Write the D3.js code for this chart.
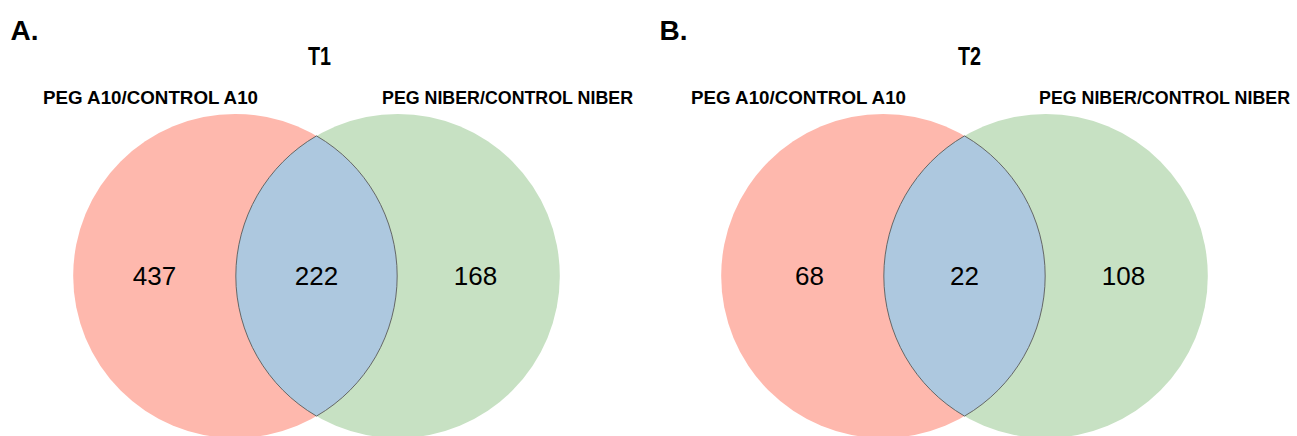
<!DOCTYPE html>
<html>
<head>
<meta charset="utf-8">
<script src="https://cdn.jsdelivr.net/npm/d3@7"></script>
<style>
  html, body { margin: 0; padding: 0; background: #fff; }
  svg { display: block; }
  text { font-family: Arial, "Liberation Sans", Helvetica, sans-serif; fill: #000; }
</style>
</head>
<body>
<svg id="chart" width="1297" height="436"></svg>
<script>
// Two-set overlaps of differentially expressed genes at two time points
const panelLetters = ["A.", "B."];
const timePoints   = ["T1", "T2"];
const setNames     = ["PEG A10/CONTROL A10", "PEG NIBER/CONTROL NIBER"];
const onlyFirst    = [437, 68];
const shared       = [222, 22];
const onlySecond   = [168, 108];

const W = 1297, H = 436;
const svg = d3.select("#chart");

// Diagram geometry, in units of circle radius
const R = 162;                 // radius in px
const centerGap = 1.004;       // distance between circle centres / radius
const cy = 276;

// Horizontal scale per panel: domain is in radius units about the lens centre
const panelCentre = [316.5, 964.5];
const xScales = panelCentre.map(c =>
  d3.scaleLinear().domain([-1, 1]).range([c - R, c + R]));

const colors = { first: "#FEB8AD", second: "#C7E1C3", both: "#ADC8DF", edge: "#5a5a5a" };

const panels = timePoints.map((t, i) => ({
  letter: panelLetters[i], title: t,
  a: onlyFirst[i], ab: shared[i], b: onlySecond[i], x: xScales[i]
}));

// Text placement relative to each panel centre
const layout = [
  { letterDx: -306, titleDx: 3, leftLabelDx: -166, rightLabelDx: 191, countNudge: [0, 0, -3] },
  { letterDx: -305, titleDx: 5, leftLabelDx: -166, rightLabelDx: 200, countNudge: [7, 0, -3] }
];

panels.forEach((p, i) => {
  const L = layout[i];
  const g = svg.append("g");
  const x = p.x;
  const c1 = x(-centerGap / 2), c2 = x(centerGap / 2);
  const half = centerGap / 2;
  const h = Math.sqrt(1 - half * half) * R;
  const xm = x(0);

  g.append("circle").attr("cx", c1).attr("cy", cy).attr("r", R).attr("fill", colors.first);
  g.append("circle").attr("cx", c2).attr("cy", cy).attr("r", R).attr("fill", colors.second);

  const lens = d3.path();
  lens.moveTo(xm, cy - h);
  // right side of the lens follows the first circle, left side the second
  const a1 = Math.asin(h / R);
  lens.arc(c1, cy, R, -a1, a1, false);
  lens.arc(c2, cy, R, Math.PI - a1, Math.PI + a1, false);
  lens.closePath();
  g.append("path").attr("d", lens.toString())
    .attr("fill", colors.both).attr("stroke", colors.edge).attr("stroke-width", 0.9);

  // region counts
  const leftMid = (x(-centerGap / 2 - 1) + x(centerGap / 2 - 1)) / 2;
  const rightMid = (x(-centerGap / 2 + 1) + x(centerGap / 2 + 1)) / 2;
  [[leftMid, p.a], [xm, p.ab], [rightMid, p.b]].forEach(([px, v], k) => {
    g.append("text").attr("x", px + L.countNudge[k]).attr("y", 285)
      .attr("text-anchor", "middle").attr("font-size", 26).text(v);
  });

  // headings
  g.append("text").attr("x", xm + L.letterDx).attr("y", 39.5)
    .attr("font-size", 28).attr("font-weight", "bold").text(p.letter);
  g.append("text").attr("x", xm + L.titleDx).attr("y", 65)
    .attr("text-anchor", "middle").attr("font-size", 25).attr("font-weight", "bold")
    .attr("textLength", 23).attr("lengthAdjust", "spacingAndGlyphs").text(p.title);
  g.append("text").attr("x", xm + L.leftLabelDx).attr("y", 104.3)
    .attr("text-anchor", "middle").attr("font-size", 18).attr("font-weight", "bold")
    .attr("textLength", 215).attr("lengthAdjust", "spacingAndGlyphs").text(setNames[0]);
  g.append("text").attr("x", xm + L.rightLabelDx).attr("y", 104.3)
    .attr("text-anchor", "middle").attr("font-size", 18).attr("font-weight", "bold")
    .attr("textLength", 251).attr("lengthAdjust", "spacingAndGlyphs").text(setNames[1]);
});
</script>
</body>
</html>
